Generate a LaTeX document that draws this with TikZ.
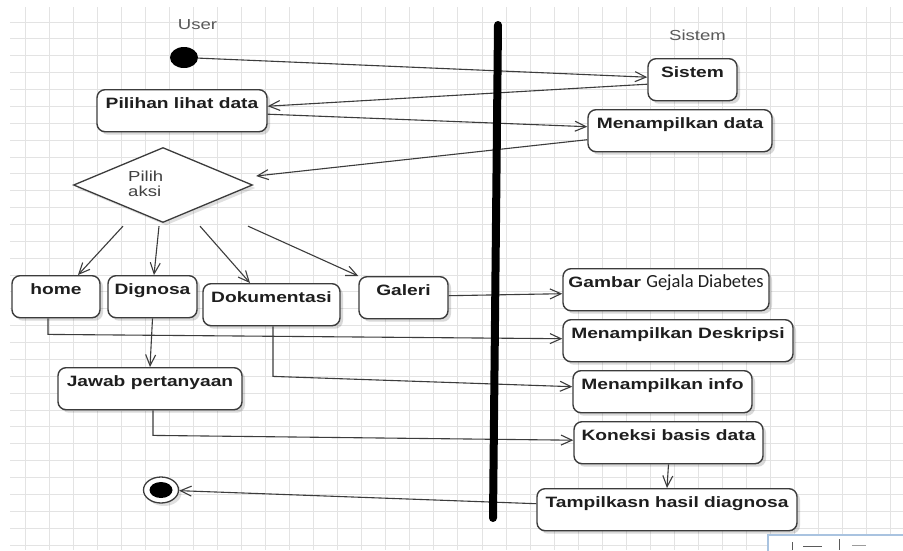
\documentclass[tikz,border=0pt]{standalone}
\usepackage{fontspec}
\setmainfont{Liberation Sans}[FakeStretch=1.28]
\newfontfamily\carlito{Carlito}
\usetikzlibrary{arrows.meta,shapes.geometric,shadows}
\definecolor{gridc}{HTML}{E3E3E3}
\definecolor{edge}{HTML}{3C3C3C}
\definecolor{ink}{HTML}{1E1E1E}
\definecolor{lane}{HTML}{5A5A5A}
\definecolor{winc}{HTML}{A9C3E0}

\begin{document}
\begin{tikzpicture}[x=1pt,y=-1pt,
  gridline/.style={draw=gridc, line width=0.9pt},
  act/.style={draw=edge, line width=1.4pt, rounded corners=8pt, fill=white,
    drop shadow={shadow xshift=3pt, shadow yshift=-3pt, opacity=0.15, fill=black},
    anchor=north, minimum height=42pt, inner xsep=0pt, inner ysep=0pt,
    text height=18.5pt, text depth=23.5pt, text=ink,
    font=\fontsize{15}{18}\selectfont\bfseries},
  lanelabel/.style={text=lane, inner sep=0pt, font=\fontsize{14.5}{17}\selectfont},
  flow/.style={draw=edge, line width=1.1pt, -{Straight Barb[length=11pt,width=10pt]}},
  plain/.style={draw=edge, line width=1.1pt},
]
\useasboundingbox (0,0) rectangle (903,550);
\fill[white] (0,0) rectangle (903,550);

% background grid
\foreach \gx in {0,...,36} \draw[gridline] ({25+24.05*\gx},7) -- ({25+24.05*\gx},550);
\foreach \gy in {0,...,31} \draw[gridline] (10,{22+16.87*\gy}) -- (903,{22+16.87*\gy});

% swimlane titles
\node[lanelabel] (userlbl) at (197.5,25) {User};
\node[lanelabel] (sislbl) at (697.5,35) {Sistem};

% start and end
\node[ellipse, fill=black, minimum width=28pt, minimum height=21pt, inner sep=0pt] (start) at (184,57.5) {};
\node[ellipse, draw=edge, line width=1.3pt, fill=white, minimum width=35pt, minimum height=26pt, inner sep=0pt,
  drop shadow={shadow xshift=3pt, shadow yshift=-3pt, opacity=0.12, fill=black}] (stop) at (161,490) {};
\node[ellipse, fill=black, minimum width=23pt, minimum height=16pt, inner sep=0pt] (stopdot) at (stop) {};

% actions, user side
\node[act, minimum width=170pt] (pil) at (182,89) {Pilihan lihat data};
\node[diamond, draw=edge, line width=1.3pt, fill=white, aspect=2.4, minimum width=179pt, minimum height=75pt, inner sep=0pt,
  drop shadow={shadow xshift=3pt, shadow yshift=-3pt, opacity=0.12, fill=black}] (dia) at (163,185) {};
\node[align=left, anchor=west, inner sep=0pt, text=ink!85, font=\fontsize{14.5}{15}\selectfont] (diatext) at (128,184) {Pilih\\aksi};
\node[act, minimum width=88pt] (home) at (56,275) {home};
\node[act, minimum width=89pt] (dig) at (152.5,275) {Dignosa};
\node[act, minimum width=137pt] (dok) at (271.5,283) {Dokumentasi};
\node[act, minimum width=89pt] (gal) at (403.5,276) {Galeri};
\node[act, minimum width=184pt] (jaw) at (150,367) {Jawab pertanyaan};

% actions, system side
\node[act, minimum width=89pt] (sis) at (692.5,58) {Sistem};
\node[act, minimum width=184pt] (mdat) at (680,109) {Menampilkan data};
\node[act, minimum width=206pt] (gam) at (666,268) {Gambar {\carlito\mdseries\fontsize{18.5}{20}\selectfont Gejala Diabetes}};
\node[act, minimum width=230pt] (desk) at (678,319) {Menampilkan Deskripsi};
\node[act, minimum width=179pt] (info) at (662.5,370) {Menampilkan info};
\node[act, minimum width=189pt] (kon) at (668.5,421) {Koneksi basis data};
\node[act, minimum width=260pt] (tam) at (667,488) {Tampilkasn hasil diagnosa};

% control flow
\draw[flow] (start) -- ([yshift=2.5pt]sis.west);
\draw[flow] ([yshift=-4.5pt]sis.west) -- ([yshift=4.5pt]pil.east);
\draw[flow] ([yshift=-3.5pt]pil.east) -- ([yshift=4pt]mdat.west);
\draw[flow] ([yshift=-9pt]mdat.west) -- ([xshift=3pt,yshift=9pt]dia.east);

\draw[flow] ([xshift=-40pt,yshift=-3pt]dia.south) -- ([xshift=22pt]home.north);
\draw[flow] ([xshift=-4pt,yshift=-3pt]dia.south) -- ([xshift=1.5pt]dig.north);
\draw[flow] ([xshift=37pt,yshift=-3pt]dia.south) -- ([xshift=-21.5pt]dok.north);
\draw[flow] ([xshift=85pt,yshift=-3pt]dia.south) -- (gal.north west);

\draw[flow] ([yshift=2pt]gal.east) -- ([yshift=-4pt]gam.west);
\draw[flow] ([xshift=-8pt]home.south) -- ([xshift=-8pt,yshift=-16pt]home.south) -- ([yshift=2pt]desk.west);
\draw[flow] (dig.south) -- (jaw.north);
\draw[flow] ([xshift=1.5pt]dok.south) -- ([xshift=1.5pt,yshift=-50pt]dok.south) -- ([yshift=5pt]info.west);
\draw[flow] ([xshift=3pt]jaw.south) -- ([xshift=3pt,yshift=-25pt]jaw.south) -- ([yshift=2.5pt]kon.west);
\draw[flow] (kon.south) -- (tam.north);
\draw[flow] ([yshift=6pt]tam.west) -- (stop);

% swimlane divider
\draw[line width=8pt, line cap=round, black] (498,25) -- (493,518);

% window corner in the lower right
\draw[winc, line width=1.3pt, fill=white] (768,535) rectangle (910,556);
\draw[lane, line width=1pt] (792,542) -- (792,550);
\draw[lane, line width=0.8pt] (803,546) -- (822,546);
\draw[lane, line width=1pt] (839,539) -- (839,550);
\draw[lane!60, line width=0.8pt] (852,545) -- (866,545);
\end{tikzpicture}
\end{document}
